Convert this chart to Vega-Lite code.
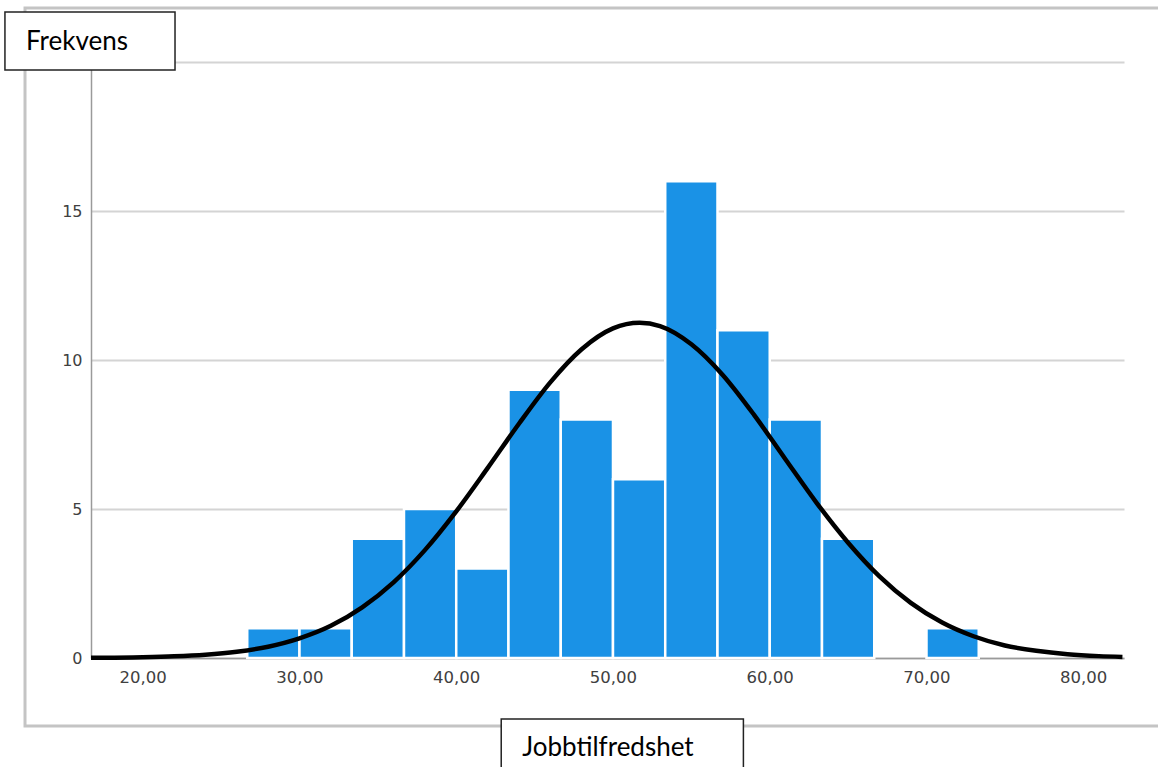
{
  "$schema": "https://vega.github.io/schema/vega-lite/v6.json",
  "width": 1033,
  "height": 596,
  "autosize": {"type": "none"},
  "padding": {"left": 91, "top": 62, "right": 34, "bottom": 109},
  "background": "white",
  "config": {"view": {"stroke": null}},
  "datasets": {
    "bins": [
      {"start": 26.667, "end": 30.0, "count": 1},
      {"start": 30.0, "end": 33.333, "count": 1},
      {"start": 33.333, "end": 36.667, "count": 4},
      {"start": 36.667, "end": 40.0, "count": 5},
      {"start": 40.0, "end": 43.333, "count": 3},
      {"start": 43.333, "end": 46.667, "count": 9},
      {"start": 46.667, "end": 50.0, "count": 8},
      {"start": 50.0, "end": 53.333, "count": 6},
      {"start": 53.333, "end": 56.667, "count": 16},
      {"start": 56.667, "end": 60.0, "count": 11},
      {"start": 60.0, "end": 63.333, "count": 8},
      {"start": 63.333, "end": 66.667, "count": 4},
      {"start": 66.667, "end": 70.0, "count": 0},
      {"start": 70.0, "end": 73.333, "count": 1}
    ],
    "curve": [
      {"x": 16.7, "y": 0.007},
      {"x": 20, "y": 0.026},
      {"x": 22, "y": 0.055},
      {"x": 24, "y": 0.11},
      {"x": 26, "y": 0.21},
      {"x": 28, "y": 0.38},
      {"x": 30, "y": 0.66},
      {"x": 32, "y": 1.08},
      {"x": 34, "y": 1.7},
      {"x": 36, "y": 2.54},
      {"x": 38, "y": 3.62},
      {"x": 40, "y": 4.92},
      {"x": 42, "y": 6.37},
      {"x": 44, "y": 7.86},
      {"x": 46, "y": 9.25},
      {"x": 48, "y": 10.36},
      {"x": 50, "y": 11.06},
      {"x": 51.7, "y": 11.25},
      {"x": 53, "y": 11.14},
      {"x": 55, "y": 10.53},
      {"x": 57, "y": 9.5},
      {"x": 59, "y": 8.16},
      {"x": 61, "y": 6.67},
      {"x": 63, "y": 5.2},
      {"x": 65, "y": 3.87},
      {"x": 67, "y": 2.74},
      {"x": 69, "y": 1.85},
      {"x": 71, "y": 1.19},
      {"x": 73, "y": 0.73},
      {"x": 75, "y": 0.42},
      {"x": 77, "y": 0.24},
      {"x": 79, "y": 0.125},
      {"x": 81, "y": 0.063},
      {"x": 82.5, "y": 0.037}
    ]
  },
  "layer": [
    {
      "data": {"values": [{"part": "frame"}]},
      "mark": {"type": "rect", "fill": null, "stroke": "#c4c4c4", "strokeWidth": 3, "clip": false},
      "encoding": {
        "x": {"datum": 12.49, "type": "quantitative"},
        "x2": {"datum": 85.9},
        "y": {"datum": 21.81, "type": "quantitative"},
        "y2": {"datum": -2.28}
      }
    },
    {
      "data": {"name": "bins"},
      "transform": [{"filter": "datum.count > 0"}],
      "mark": {"type": "rect", "fill": "#1a92e6", "stroke": "white", "strokeWidth": 2.5},
      "encoding": {
        "x": {
          "field": "start",
          "type": "quantitative",
          "scale": {"domain": [16.7, 82.6], "nice": false, "zero": false},
          "axis": {
            "title": null,
            "values": [20, 30, 40, 50, 60, 70, 80],
            "labelExpr": "replace(format(datum.value, '.2f'), '.', ',')",
            "grid": false,
            "ticks": false,
            "domainColor": "#9a9a9a",
            "domainWidth": 1.5,
            "labelFont": "DejaVu Sans",
            "labelFontSize": 16.5,
            "labelColor": "#404040",
            "labelPadding": 11
          }
        },
        "x2": {"field": "end"},
        "y": {
          "field": "count",
          "type": "quantitative",
          "scale": {"domain": [0, 20], "nice": false},
          "axis": {
            "title": null,
            "values": [0, 5, 10, 15, 20],
            "grid": true,
            "gridColor": "#d4d4d4",
            "gridWidth": 2,
            "ticks": false,
            "domainColor": "#9a9a9a",
            "domainWidth": 1.5,
            "labelFont": "DejaVu Sans",
            "labelFontSize": 16,
            "labelColor": "#404040",
            "labelPadding": 9
          }
        },
        "y2": {"datum": 0}
      }
    },
    {
      "data": {"name": "curve"},
      "mark": {"type": "line", "color": "black", "strokeWidth": 4.5, "interpolate": "monotone", "clip": false},
      "encoding": {
        "x": {"field": "x", "type": "quantitative"},
        "y": {"field": "y", "type": "quantitative"}
      }
    },
    {
      "data": {"values": [{"label": "Frekvens"}]},
      "mark": {"type": "rect", "fill": "white", "stroke": "#222222", "strokeWidth": 1.5, "clip": false},
      "encoding": {
        "x": {"datum": 11.21, "type": "quantitative"},
        "x2": {"datum": 22.06},
        "y": {"datum": 21.68, "type": "quantitative"},
        "y2": {"datum": 19.73}
      }
    },
    {
      "data": {"values": [{"label": "Frekvens"}]},
      "mark": {"type": "text", "align": "left", "baseline": "alphabetic", "font": "Lato", "fontSize": 26, "color": "black", "clip": false},
      "encoding": {
        "x": {"datum": 12.55, "type": "quantitative"},
        "y": {"datum": 20.4, "type": "quantitative"},
        "text": {"field": "label"}
      }
    },
    {
      "data": {"values": [{"label": "Jobbtilfredshet"}]},
      "mark": {"type": "rect", "fill": "white", "stroke": "#222222", "strokeWidth": 1.5, "clip": false},
      "encoding": {
        "x": {"datum": 42.87, "type": "quantitative"},
        "x2": {"datum": 58.32},
        "y": {"datum": -2.047, "type": "quantitative"},
        "y2": {"datum": -4.43}
      }
    },
    {
      "data": {"values": [{"label": "Jobbtilfredshet"}]},
      "mark": {"type": "text", "align": "left", "baseline": "alphabetic", "font": "Lato", "fontSize": 26, "color": "black", "clip": false},
      "encoding": {
        "x": {"datum": 44.21, "type": "quantitative"},
        "y": {"datum": -3.28, "type": "quantitative"},
        "text": {"field": "label"}
      }
    }
  ]
}
